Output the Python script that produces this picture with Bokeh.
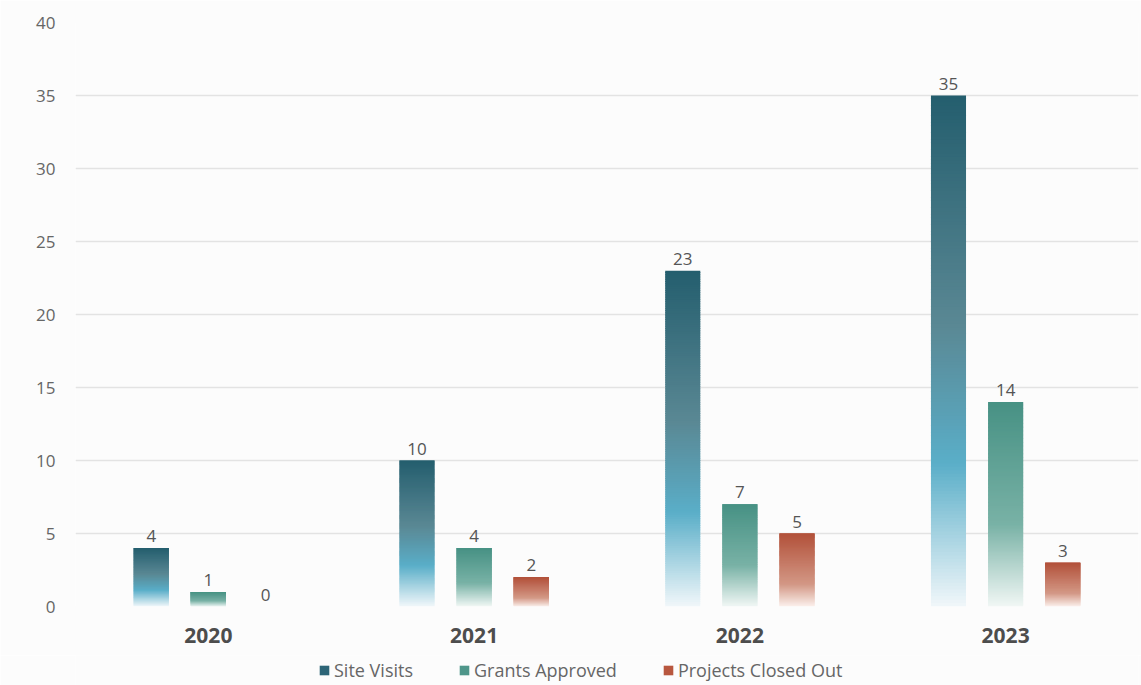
from bokeh.plotting import figure
from bokeh.layouts import column
from bokeh.models import ColumnDataSource, FactorRange, Legend, LegendItem, SingleIntervalTicker, Range1d
from bokeh.transform import dodge
from bokeh.embed import file_html
from bokeh.resources import INLINE

years = ["2020", "2021", "2022", "2023"]
series = ["Site Visits", "Grants Approved", "Projects Closed Out"]
site_visits = [4, 10, 23, 35]
grants_approved = [1, 4, 7, 14]
projects_closed = [0, 2, 5, 3]
values = [site_visits, grants_approved, projects_closed]

# gradient stops: (fraction from top, colour)
stops = [
    [(0.0, "#245e6e"), (0.45, "#5a8894"), (0.72, "#5aaec8"), (1.0, "#f1f7fa")],
    [(0.0, "#479184"), (0.6, "#79b2a6"), (1.0, "#f1f7f5")],
    [(0.0, "#b2513a"), (0.7, "#d39886"), (1.0, "#fbf0ec")],
]
legend_colors = ["#2d6577", "#4f968a", "#b8573f"]
offsets = [-0.215, 0.0, 0.215]
FONT = "Open Sans"
BG = "#fcfcfc"


def hex2rgb(h):
    h = h.lstrip("#")
    return tuple(int(h[i:i + 2], 16) for i in (0, 2, 4))


def interp(st, f):
    for (f0, c0), (f1, c1) in zip(st[:-1], st[1:]):
        if f0 <= f <= f1:
            t = (f - f0) / (f1 - f0) if f1 > f0 else 0
            a, b = hex2rgb(c0), hex2rgb(c1)
            r = [round(a[i] + (b[i] - a[i]) * t) for i in range(3)]
            return "#%02x%02x%02x" % tuple(r)
    return st[-1][1]


p = figure(
    x_range=FactorRange(*years), y_range=Range1d(0, 40),
    width=1141, height=655, output_backend="svg", toolbar_location=None,
    min_border_left=75, min_border_top=22, min_border_right=3, min_border_bottom=49,
)
p.background_fill_color = BG
p.border_fill_color = BG
p.outline_line_color = None

N = 150
for s, vals in enumerate(values):
    xs, bots, tops, cols = [], [], [], []
    for yr, v in zip(years, vals):
        if v <= 0:
            continue
        for k in range(N):
            xs.append(yr)
            bots.append(v * k / N)
            tops.append(min(v, v * (k + 1) / N + 0.06))
            cols.append(interp(stops[s], 1 - (k + 0.5) / N))
    src = ColumnDataSource(dict(x=xs, bottom=bots, top=tops, color=cols))
    p.vbar(x=dodge("x", offsets[s], range=p.x_range), bottom="bottom", top="top",
           width=0.132, source=src, fill_color="color", line_color=None)

    lsrc = ColumnDataSource(dict(x=years, y=vals, t=[str(v) for v in vals]))
    p.text(x=dodge("x", offsets[s], range=p.x_range), y="y", text="t", source=lsrc,
           text_align="center", text_baseline="bottom", y_offset=-6,
           text_font_size="17px", text_color="#555555", text_font={"value": FONT})

p.yaxis.ticker = SingleIntervalTicker(interval=5)
p.yaxis.axis_line_color = None
p.yaxis.major_tick_line_color = None
p.yaxis.minor_tick_line_color = None
p.yaxis.major_label_text_font = FONT
p.yaxis.major_label_text_font_size = "17px"
p.yaxis.major_label_text_color = "#666666"
p.yaxis.major_label_standoff = 14

p.xaxis.axis_line_color = None
p.xaxis.major_tick_line_color = None
p.xaxis.major_label_text_font = FONT
p.xaxis.major_label_text_font_size = "21px"
p.xaxis.major_label_text_font_style = "bold"
p.xaxis.major_label_text_color = "#4d4d4d"
p.xaxis.major_label_standoff = 15

p.xgrid.grid_line_color = None
p.ygrid.grid_line_color = "#e3e3e3"
p.ygrid.grid_line_width = 1.5
p.x_range.range_padding = 0
p.x_range.group_padding = 0

# legend strip below the chart
lg = figure(width=1141, height=30, output_backend="svg", toolbar_location=None,
            x_range=Range1d(0, 1), y_range=Range1d(0, 1),
            min_border_left=0, min_border_right=0, min_border_top=0, min_border_bottom=0)
lg.background_fill_color = BG
lg.border_fill_color = BG
lg.outline_line_color = None
lg.axis.visible = False
lg.grid.visible = False

legend_items = []
for s, name in enumerate(series):
    r = lg.vbar(x=[0.5], bottom=[0], top=[0], width=0.0001,
                fill_color=legend_colors[s], line_color=None)
    legend_items.append(LegendItem(label=name, renderers=[r]))

legend = Legend(items=legend_items, orientation="horizontal", location=(243, 3))
legend.label_text_font = FONT
legend.label_text_font_size = "18px"
legend.label_text_color = "#666666"
legend.glyph_width = 12
legend.glyph_height = 12
legend.label_standoff = 4
legend.spacing = 45
legend.padding = 0
legend.margin = 0
legend.border_line_color = None
legend.background_fill_alpha = 0
lg.add_layout(legend, "center")

layout = column(p, lg, spacing=0)
open("out.html", "w").write(file_html(layout, INLINE))
